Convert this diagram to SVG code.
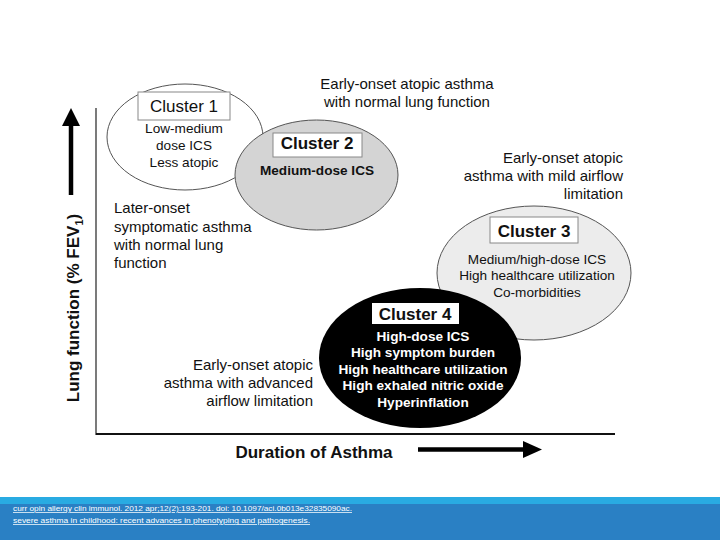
<svg xmlns="http://www.w3.org/2000/svg" width="720" height="540" viewBox="0 0 720 540">
<style>
.t{font-family:"Liberation Sans",Arial,sans-serif;fill:#111}
.a{font-size:15px}
.c{font-size:13.6px}
.cb{font-size:13.6px;font-weight:bold}
.h{font-size:17px}
.hb{font-size:17px;font-weight:bold}
.w{fill:#fff}
.m{text-anchor:middle}
.e{text-anchor:end}
.ell{stroke:#555;stroke-width:1}
.box{fill:#fff;stroke:#888;stroke-width:1}
.ft{font-family:"Liberation Sans",Arial,sans-serif;font-size:7.5px;fill:#fff;text-decoration:underline}
</style>
<rect width="720" height="540" fill="#fff"/>
<g id="axes">
<line x1="96" y1="108" x2="96" y2="435" stroke="#222" stroke-width="1.2"/>
<line x1="96" y1="434" x2="615" y2="434" stroke="#111" stroke-width="2"/>
<line x1="71" y1="195" x2="71" y2="122" stroke="#000" stroke-width="4.5"/>
<polygon points="71,108 62,126 80,126" fill="#000"/>
<line x1="418" y1="449.5" x2="526" y2="449.5" stroke="#000" stroke-width="4.5"/>
<polygon points="542,449.5 523,441 523,458" fill="#000"/>
<text class="t hb" transform="translate(78.5,308) rotate(-90)" text-anchor="middle">Lung function (% FEV<tspan font-size="11" dy="4">1</tspan><tspan dy="-4">)</tspan></text>
<text class="t hb m" x="314" y="458">Duration of Asthma</text>
</g>
<g id="cluster1">
<ellipse class="ell" cx="185" cy="137" rx="78" ry="53" fill="#fff"/>
<rect class="box" x="138" y="92" width="92" height="28"/>
<text class="t h m" x="184" y="112">Cluster 1</text>
<text class="t c m" x="184" y="133">Low-medium</text>
<text class="t c m" x="184" y="150">dose ICS</text>
<text class="t c m" x="184" y="167">Less atopic</text>
</g>
<g id="cluster2">
<ellipse class="ell" cx="316.5" cy="175" rx="81.5" ry="55" fill="#d4d4d4"/>
<rect class="box" x="273" y="133" width="89" height="24"/>
<text class="t hb m" x="317" y="149">Cluster 2</text>
<text class="t cb m" x="317" y="175">Medium-dose ICS</text>
</g>
<g id="cluster3">
<ellipse class="ell" cx="534" cy="273" rx="97" ry="67" fill="#ececec"/>
<rect class="box" x="490" y="217" width="88" height="26"/>
<text class="t hb m" x="534" y="237">Cluster 3</text>
<text class="t c m" x="537" y="264">Medium/high-dose ICS</text>
<text class="t c m" x="537" y="280">High healthcare utilization</text>
<text class="t c m" x="537" y="297">Co-morbidities</text>
</g>
<g id="cluster4">
<ellipse cx="420" cy="358" rx="101" ry="70" fill="#000"/>
<rect x="372" y="303" width="87" height="21" fill="#fff"/>
<text class="t hb m" x="415" y="320">Cluster 4</text>
<text class="t cb m w" x="423" y="341">High-dose ICS</text>
<text class="t cb m w" x="423" y="357">High symptom burden</text>
<text class="t cb m w" x="423" y="374">High healthcare utilization</text>
<text class="t cb m w" x="423" y="390">High exhaled nitric oxide</text>
<text class="t cb m w" x="423" y="407">Hyperinflation</text>
</g>
<g id="labels">
<text class="t a m" x="407" y="89">Early-onset atopic asthma</text>
<text class="t a m" x="407" y="107">with normal lung function</text>
<text class="t a e" x="623" y="163">Early-onset atopic</text>
<text class="t a e" x="623" y="181">asthma with mild airflow</text>
<text class="t a e" x="623" y="199">limitation</text>
<text class="t a" x="114" y="213">Later-onset</text>
<text class="t a" x="114" y="232">symptomatic asthma</text>
<text class="t a" x="114" y="250">with normal lung</text>
<text class="t a" x="114" y="268">function</text>
<text class="t a e" x="313" y="370">Early-onset atopic</text>
<text class="t a e" x="313" y="388">asthma with advanced</text>
<text class="t a e" x="313" y="406">airflow limitation</text>
</g>
<g id="connectors"></g>
<g id="footer">
<rect x="0" y="497" width="720" height="43" fill="#2a80c4"/>
<rect x="0" y="497" width="720" height="7" fill="#29abe2"/>
<text class="ft" x="13" y="511" textLength="339" lengthAdjust="spacingAndGlyphs">curr opin allergy clin immunol. 2012 apr;12(2):193-201. doi: 10.1097/aci.0b013e32835090ac.</text>
<text class="ft" x="13" y="523" textLength="297" lengthAdjust="spacingAndGlyphs">severe asthma in childhood: recent advances in phenotyping and pathogenesis.</text>
</g>
</svg>
